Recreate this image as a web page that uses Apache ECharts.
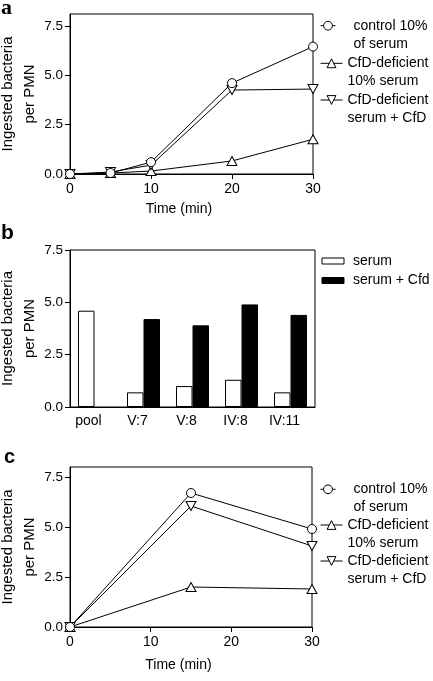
<!DOCTYPE html>
<html><head><meta charset="utf-8">
<script src="https://cdn.jsdelivr.net/npm/echarts@6/dist/echarts.min.js"></script>
<style>html,body{margin:0;padding:0;background:#fff}#c{width:433px;height:681px}</style>
</head><body><div id="c"></div>
<script>
// ---- data ----
const timeA = [0, 5, 10, 20, 30];
const controlA = [0, 0.05, 0.6, 4.6, 6.45];
const deficientA = [0, 0.05, 0.15, 0.66, 1.76];
const deficientCfdA = [0, 0.1, 0.45, 4.25, 4.3];
const timeC = [0, 15, 30];
const controlC = [0, 6.7, 4.9];
const deficientC = [0, 2.0, 1.9];
const deficientCfdC = [0, 6.05, 4.05];
const donors = ['pool', 'V:7', 'V:8', 'IV:8', 'IV:11'];
const serumB = [4.6, 0.7, 1.0, 1.3, 0.7];
const serumCfdB = [null, 4.2, 3.9, 4.9, 4.4];
const yTickValues = [0, 2.5, 5, 7.5];
const nameControl = 'control 10%\nof serum';
const nameDef = 'CfD-deficient\n10% serum';
const nameDefCfd = 'CfD-deficient\nserum + CfD';
const nameSerum = 'serum';
const nameSerumCfd = 'serum + Cfd';
const yTitle = 'Ingested bacteria\nper PMN';
const xTitle = 'Time (min)';

const FONT = '"Liberation Sans", Arial, sans-serif';
const BLACK = '#000';

function lineSeries(name, xs, ys, symbol, gi, rotate, size) {
  return {
    type: 'line', name: name, xAxisIndex: gi, yAxisIndex: gi,
    data: xs.map((x, i) => [x, ys[i]]),
    symbol: symbol, symbolSize: size, symbolRotate: rotate || 0, showAllSymbol: true,
    lineStyle: { color: BLACK, width: 1 },
    itemStyle: { color: '#fff', borderColor: BLACK, borderWidth: 1 },
    emphasis: { disabled: true }, silent: true
  };
}

function grid(left, top, width, height) {
  return { left, top, width, height, show: true, borderColor: BLACK, borderWidth: 1,
    backgroundColor: 'transparent', outerBoundsMode: 'none', containLabel: false };
}

function timeAxis(gi, gap) {
  return {
    gridIndex: gi, type: 'value', min: 0, max: 30, interval: 10,
    axisLine: { show: true, lineStyle: { color: BLACK, width: 1 } },
    axisTick: { show: true, inside: false, length: 5, lineStyle: { color: BLACK } },
    axisLabel: { fontSize: 14, color: BLACK, margin: 8, fontFamily: FONT },
    splitLine: { show: false },
    name: xTitle, nameLocation: 'middle', nameGap: gap, nameMoveOverlap: false,
    nameTextStyle: { fontSize: 14, color: BLACK, fontFamily: FONT, padding: [0, 25, 0, 0] }
  };
}

function valAxis(gi, max, custom) {
  const ax = {
    gridIndex: gi, type: 'value', min: 0, max: max,
    axisLine: { show: true, lineStyle: { color: BLACK, width: 1 } },
    axisTick: { show: true, inside: false, length: 5, lineStyle: { color: BLACK } },
    axisLabel: { fontSize: 13.5, color: BLACK, margin: 7, fontFamily: FONT, formatter: v => v.toFixed(1) },
    splitLine: { show: false },
    name: yTitle, nameLocation: 'middle', nameGap: 29, nameMoveOverlap: false,
    nameTextStyle: { fontSize: 15, lineHeight: 22, color: BLACK, fontFamily: FONT }
  };
  if (custom) {
    ax.axisTick.customValues = yTickValues;
    ax.axisLabel.customValues = yTickValues;
  } else {
    ax.interval = 2.5;
  }
  return ax;
}

function lineLegend(name, iconCenterY, itemWidth, padLeft) {
  return {
    data: [name], left: 320, top: iconCenterY - 27, orient: 'vertical', padding: 0,
    itemWidth: itemWidth, itemHeight: 11, selectedMode: false,
    formatter: n => '\n' + n,
    itemStyle: { borderWidth: 1, borderColor: BLACK, color: '#fff' },
    lineStyle: { width: 1, color: BLACK },
    textStyle: { fontFamily: FONT, fontSize: 14, color: BLACK, lineHeight: 18, padding: [0, 0, 0, padLeft] }
  };
}
function barLegend(name, iconCenterY) {
  return {
    data: [name], left: 321.5, top: iconCenterY - 8, padding: 0, icon: 'rect',
    itemWidth: 22, itemHeight: 6, selectedMode: false,
    itemStyle: { borderWidth: 1, borderColor: BLACK },
    textStyle: { fontFamily: FONT, fontSize: 14, color: BLACK, lineHeight: 16, padding: [0, 0, 0, 4] }
  };
}

const chart = echarts.init(document.getElementById('c'), null, { renderer: 'canvas' });
chart.setOption({
  animation: false,
  backgroundColor: '#fff',
  textStyle: { fontFamily: FONT },
  grid: [grid(70, 14, 243, 160), grid(70, 250, 245, 157), grid(70, 467, 242, 160)],
  xAxis: [
    timeAxis(0, 28),
    {
      gridIndex: 1, type: 'category', data: donors,
      axisLine: { show: true, lineStyle: { color: BLACK, width: 1 } },
      axisTick: { show: false },
      axisLabel: { fontSize: 14, color: BLACK, margin: 7, fontFamily: FONT, padding: [0, 12, 0, 0] },
      splitLine: { show: false }
    },
    timeAxis(2, 31)
  ],
  yAxis: [valAxis(0, 8.1, true), valAxis(1, 7.5, false), valAxis(2, 8.0, true)],
  legend: [
    lineLegend(nameControl, 25.7, 15, 13),
    lineLegend(nameDef, 63.3, 22, 0),
    lineLegend(nameDefCfd, 100, 22, 0),
    barLegend(nameSerum, 261),
    barLegend(nameSerumCfd, 280.5),
    lineLegend(nameControl, 489.3, 15, 13),
    lineLegend(nameDef, 525, 22, 0),
    lineLegend(nameDefCfd, 561, 22, 0)
  ],
  series: [
    lineSeries(nameDef, timeA, deficientA, 'triangle', 0, 0, [10, 9]),
    lineSeries(nameDefCfd, timeA, deficientCfdA, 'triangle', 0, 180, [10, 9]),
    lineSeries(nameControl, timeA, controlA, 'circle', 0, 0, 9),
    {
      type: 'bar', name: nameSerum, xAxisIndex: 1, yAxisIndex: 1, data: serumB,
      barWidth: 16.5, barGap: '0%',
      itemStyle: { color: '#fff', borderColor: BLACK, borderWidth: 1 }, silent: true
    },
    {
      type: 'bar', name: nameSerumCfd, xAxisIndex: 1, yAxisIndex: 1, data: serumCfdB,
      barWidth: 16.5, barGap: '0%',
      itemStyle: { color: BLACK, borderColor: BLACK, borderWidth: 1 }, silent: true
    },
    lineSeries(nameDef, timeC, deficientC, 'triangle', 2, 0, [10, 9]),
    lineSeries(nameDefCfd, timeC, deficientCfdC, 'triangle', 2, 180, [10, 9]),
    lineSeries(nameControl, timeC, controlC, 'circle', 2, 0, 9)
  ],
  graphic: [
    { type: 'text', left: 1, top: -3, style: { text: 'a', font: 'bold 22px "Liberation Serif", serif', fill: BLACK } },
    { type: 'text', left: 1, top: 223, style: { text: 'b', font: 'bold 21px "Liberation Sans", Arial, sans-serif', fill: BLACK } },
    { type: 'text', left: 4, top: 447, style: { text: 'c', font: 'bold 20px "Liberation Sans", Arial, sans-serif', fill: BLACK } }
  ]
});
</script>
</body></html>
